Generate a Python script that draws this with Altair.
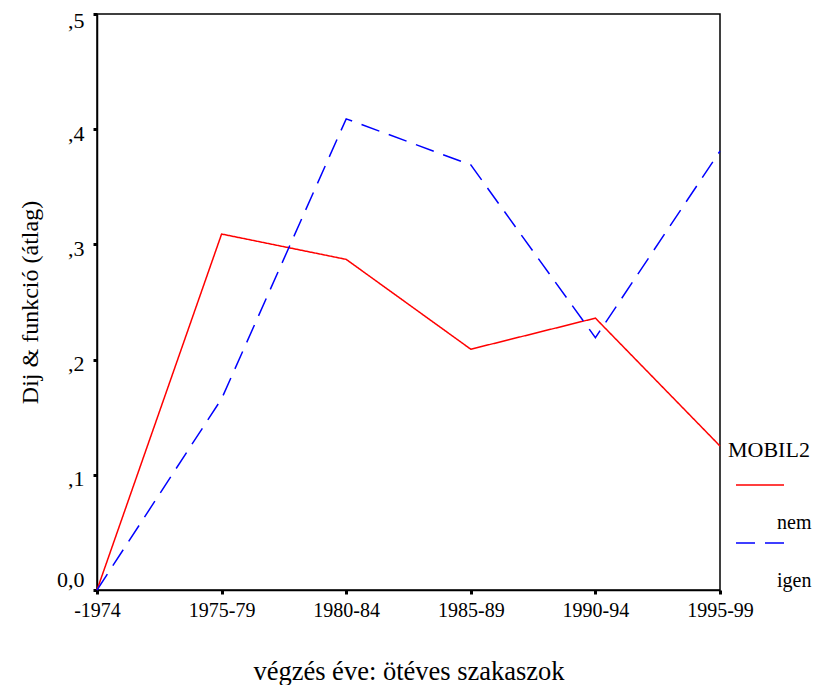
import altair as alt
import pandas as pd

# data
periods = ['-1974', '1975-79', '1980-84', '1985-89', '1990-94', '1995-99']
nem = [0.0, 0.309, 0.287, 0.209, 0.236, 0.125]
igen = [0.0, 0.166, 0.409, 0.369, 0.219, 0.381]

df = pd.DataFrame({
    'period': periods * 2,
    'value': nem + igen,
    'MOBIL2': ['nem'] * len(periods) + ['igen'] * len(periods),
})

font = 'Liberation Serif'

lines = alt.Chart(df).mark_line(strokeWidth=1.5).encode(
    x=alt.X('period:O', sort=periods, title='végzés éve: ötéves szakaszok',
            scale=alt.Scale(type='point', padding=0),
            axis=alt.Axis(labelAngle=0, labelFontSize=20, titleFontSize=26.5,
                          titlePadding=38, labelPadding=6)),
    y=alt.Y('value:Q', title='Dij & funkció (átlag)',
            scale=alt.Scale(domain=[0, 0.5], nice=False),
            axis=alt.Axis(values=[0, 0.1, 0.2, 0.3, 0.4, 0.5], grid=False,
                          labelExpr="datum.value == 0 ? '0,0' : replace(format(datum.value, '.1f'), '0.', ',')",
                          labelFontSize=22, titleFontSize=24, titlePadding=14,
                          labelPadding=9, labelFlush=False, labelBaseline='middle',
                          labelOffset={'condition': [{'test': 'datum.value == 0', 'value': -11},
                                                     {'test': 'datum.value == 0.5', 'value': 6}],
                                       'value': 4})),
    color=alt.Color('MOBIL2:N', scale=alt.Scale(domain=['nem', 'igen'], range=['#ff0000', '#0000ff']),
                    legend=alt.Legend(orient='none', legendX=631, legendY=426,
                                      symbolType='M-2,-0.5H2', symbolSize=576, symbolStrokeWidth=1.5,
                                      symbolOffset=19,
                                      titleFontSize=22, titleFontWeight='normal', titlePadding=16,
                                      labelFontSize=20, labelBaseline='top', labelOffset=4,
                                      labelExpr="['', datum.label]",
                                      rowPadding=3)),
    strokeDash=alt.StrokeDash('MOBIL2:N', scale=alt.Scale(domain=['nem', 'igen'], range=[[1, 0], [19, 10]]),
                              legend=None),
)

chart = lines.properties(
    width=623, height=576,
    autosize=alt.AutoSizeParams(type='none'),
    padding={'left': 89, 'top': 6, 'right': 100, 'bottom': 95},
).configure(font=font).configure_view(
    stroke='black', strokeWidth=1.5
).configure_axis(
    domainColor='black', domainWidth=1.5, tickColor='black', tickSize=4, tickWidth=3,
    labelColor='black', titleColor='black', labelFont=font, titleFont=font,
    titleFontWeight='normal'
).configure_legend(
    labelFont=font, titleFont=font, labelColor='black', titleColor='black'
)

chart.save("out.html", embed_options={"renderer": "svg", "actions": False})
